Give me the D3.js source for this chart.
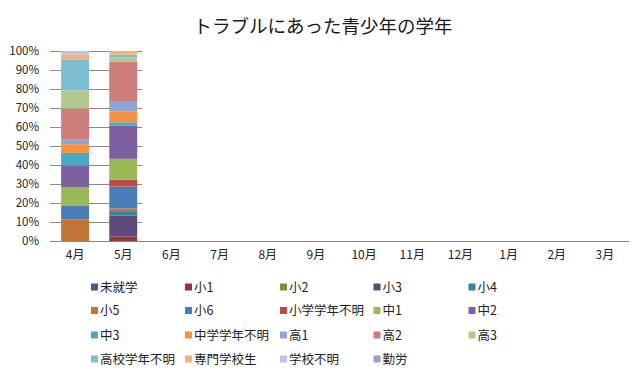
<!DOCTYPE html>
<html><head><meta charset="utf-8">
<script src="https://cdn.jsdelivr.net/npm/d3@7"></script>
<style>
html,body{margin:0;padding:0;background:#fff;}
svg{display:block;}
</style></head>
<body>
<svg id="chart" width="643" height="378"></svg>
<script>
const title = "トラブルにあった青少年の学年";
const months = ["4月","5月","6月","7月","8月","9月","10月","11月","12月","1月","2月","3月"];
const seriesNames = ["未就学","小1","小2","小3","小4","小5","小6","小学学年不明","中1","中2","中3","中学学年不明","高1","高2","高3","高校学年不明","専門学校生","学校不明","勤労"];
const seriesColors = ["#3B5E8C","#953735","#77933C","#5F497A","#31859C","#C27536","#4A7EBB","#BE4B48","#98B954","#7D60A0","#46AAC5","#F69240","#8EA6D6","#CD7D7A","#B2C98D","#7DBED3","#F8B07A","#B9C4E2","#A898C8"];
// percent share per month (only 4月 and 5月 have data)
const v未就学 = [0,0,0,0,0,0,0,0,0,0,0,0];
const v小1 = [0,2.3,0,0,0,0,0,0,0,0,0,0];
const v小2 = [0,0,0,0,0,0,0,0,0,0,0,0];
const v小3 = [0,11.0,0,0,0,0,0,0,0,0,0,0];
const v小4 = [0,2.4,0,0,0,0,0,0,0,0,0,0];
const v小5 = [11.4,1.4,0,0,0,0,0,0,0,0,0,0];
const v小6 = [7.0,11.5,0,0,0,0,0,0,0,0,0,0];
const v小学学年不明 = [0,3.7,0,0,0,0,0,0,0,0,0,0];
const v中1 = [9.7,10.9,0,0,0,0,0,0,0,0,0,0];
const v中2 = [11.6,17.4,0,0,0,0,0,0,0,0,0,0];
const v中3 = [6.6,1.8,0,0,0,0,0,0,0,0,0,0];
const v中学学年不明 = [4.6,5.6,0,0,0,0,0,0,0,0,0,0];
const v高1 = [2.7,5.6,0,0,0,0,0,0,0,0,0,0];
const v高2 = [16.0,20.7,0,0,0,0,0,0,0,0,0,0];
const v高3 = [9.6,2.2,0,0,0,0,0,0,0,0,0,0];
const v高校学年不明 = [16.0,1.5,0,0,0,0,0,0,0,0,0,0];
const v専門学校生 = [2.9,1.9,0,0,0,0,0,0,0,0,0,0];
const v学校不明 = [1.8,0,0,0,0,0,0,0,0,0,0,0];
const v勤労 = [0,0,0,0,0,0,0,0,0,0,0,0];
const yTicks = [0,0.1,0.2,0.3,0.4,0.5,0.6,0.7,0.8,0.9,1.0];

const seriesValues = [v未就学,v小1,v小2,v小3,v小4,v小5,v小6,v小学学年不明,v中1,v中2,v中3,v中学学年不明,v高1,v高2,v高3,v高校学年不明,v専門学校生,v学校不明,v勤労];

const table = months.map((m,i)=>{
  const row = {month:m};
  seriesNames.forEach((s,j)=>row[s]=seriesValues[j][i]);
  return row;
});

const font = "'Noto Sans CJK JP','Noto Sans',sans-serif";
const svg = d3.select("#chart");
const x = d3.scaleBand().domain(months).range([51,629]).paddingInner(0.42).paddingOuter(0.21);
const y = d3.scaleLinear().domain([0,1]).range([241,51]);

// title
svg.append("text").attr("x",323).attr("y",33).attr("text-anchor","middle")
  .attr("font-family",font).attr("font-size",18.5).attr("fill","#1a1a1a").text(title);

// stack
const stack = d3.stack().keys(seriesNames).offset(d3.stackOffsetExpand);
const stacked = stack(table);

// gridlines (short, near data)
const gridEnd = x(months[1]) + x.bandwidth() + 5;
svg.append("g").selectAll("line").data(yTicks).join("line")
  .attr("x1",50).attr("x2",gridEnd)
  .attr("y1",d=>Math.round(y(d))+0.5).attr("y2",d=>Math.round(y(d))+0.5)
  .attr("stroke","#8a8a8a").attr("stroke-width",1);

// bars
svg.append("g").selectAll("g").data(stacked).join("g")
  .attr("fill",(d,i)=>seriesColors[i])
  .selectAll("rect").data(d=>d.filter(p=>!isNaN(p[1]) && (p[1]-p[0])>0)).join("rect")
  .attr("x",d=>x(d.data.month))
  .attr("width",x.bandwidth())
  .attr("y",d=>y(d[1]))
  .attr("height",d=>y(d[0])-y(d[1]));

// y axis labels
const yAxis = d3.axisLeft(y).tickValues(yTicks).tickFormat(d3.format(".0%")).tickSize(0).tickPadding(0);
const yg = svg.append("g").attr("transform","translate(39,0)").call(yAxis);
yg.select(".domain").remove();
yg.selectAll("text").attr("font-family",font).attr("font-size",11.5).attr("fill","#222");

// x axis
const xAxis = d3.axisBottom(x).tickSize(0).tickPadding(9);
const xg = svg.append("g").attr("transform","translate(0,241.5)").call(xAxis);
xg.select(".domain").attr("stroke","#868686").attr("d","M51,0H629");
xg.selectAll("text").attr("font-family",font).attr("font-size",12).attr("fill","#222");

// legend
const legCols = [91,185,280,373.5,468.5];
const legRows = [287,310.5,335,359];
const leg = svg.append("g").selectAll("g").data(seriesNames).join("g")
  .attr("transform",(d,i)=>`translate(${legCols[i%5]},${legRows[Math.floor(i/5)]})`);
leg.append("rect").attr("x",0).attr("y",-3.5).attr("width",7).attr("height",7)
  .attr("fill",(d,i)=>seriesColors[i]);
leg.append("text").attr("x",9).attr("y",0).attr("dy","0.36em")
  .attr("font-family",font).attr("font-size",12.5).attr("fill","#222").text(d=>d);
</script>
</body></html>
